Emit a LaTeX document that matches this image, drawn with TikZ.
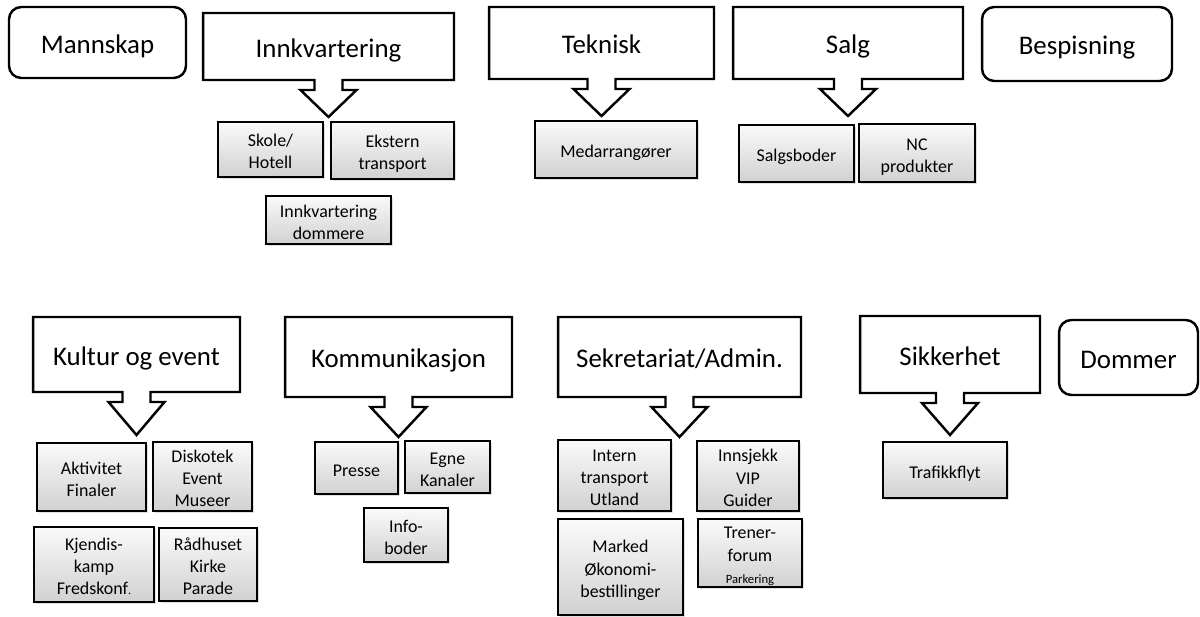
\documentclass[tikz,border=0pt]{standalone}
\usepackage{fontspec}
\setmainfont{Carlito}
\usetikzlibrary{calc,shadows}

\tikzset{
  headbox/.style={inner sep=0pt, outer sep=0pt, text height=12.4pt, text depth=0pt, font=\fontsize{15.3}{18}\selectfont},
  calloutline/.style={line width=1.4pt, line join=miter},
  roundbox/.style={draw, line width=1.4pt, rounded corners=7pt, inner sep=0pt, text height=12.4pt, text depth=0pt, font=\fontsize{15.3}{18}\selectfont},
  subbox/.style={draw, line width=1.1pt, top color=gray!4, bottom color=gray!36,
    drop shadow={shadow xshift=1pt, shadow yshift=-1.3pt, opacity=0.25},
    inner sep=0pt, font=\fontsize{10.2}{12.6}\selectfont},
}

% box with a down arrow under it
\newcommand{\calloutdown}[2]{%
  \draw[calloutline] (#1.south west) -- (#1.north west) -- (#1.north east) -- (#1.south east)
    -- ($(#1.south)+(14,0)$) -- ++(0,10) -- ++(14,0) -- ($(#1.south)+(0,#2)$)
    -- ($(#1.south)+(-28,10)$) -- ++(14,0) -- ($(#1.south)+(-14,0)$) -- cycle;}
% lines of a small box
\newcommand{\sublines}[1]{\raisebox{-2.1pt}[\height][\depth]{\begin{tabular}{@{}c@{}}#1\end{tabular}}}

\begin{document}
\begin{tikzpicture}[x=0.02cm, y=-0.02cm]
\useasboundingbox (0,0) rectangle (1200,616);

%top row
\node[roundbox, minimum width=3.54cm, minimum height=1.42cm] (mannskap) at (97.5,42.5) {Mannskap};

\node[headbox, minimum width=5.02cm, minimum height=1.34cm] (innkv) at (328.5,46.5) {Innkvartering};
\calloutdown{innkv}{37}
\node[subbox, minimum width=2.1cm, minimum height=1.1cm] (skole) at (270.5,149.5) {\sublines{Skole/\\Hotell}};
\node[subbox, minimum width=2.46cm, minimum height=1.14cm] (ekstern) at (392.5,150.5) {\sublines{Ekstern\\transport}};
\node[subbox, minimum width=2.5cm, minimum height=0.96cm] (innkvdom) at (328.5,220) {\sublines{Innkvartering\\dommere}};

\node[headbox, minimum width=4.5cm, minimum height=1.44cm] (teknisk) at (601.5,43) {Teknisk};
\calloutdown{teknisk}{37}
\node[subbox, minimum width=3.24cm, minimum height=1.14cm] (medarr) at (616,149.5) {\sublines{Medarrangører}};

\node[headbox, minimum width=4.6cm, minimum height=1.44cm] (salg) at (848,43) {Salg};
\calloutdown{salg}{37}
\node[subbox, minimum width=2.3cm, minimum height=1.14cm] (salgsboder) at (796.5,153.5) {\sublines{Salgsboder}};
\node[subbox, minimum width=2.32cm, minimum height=1.16cm] (ncprod) at (917,153) {\sublines{NC\\produkter}};

\node[roundbox, minimum width=3.8cm, minimum height=1.48cm] (bespisning) at (1077,44) {Bespisning};

%bottom row
\node[headbox, minimum width=4.14cm, minimum height=1.5cm] (kultur) at (136.5,354.5) {Kultur og event};
\calloutdown{kultur}{43}
\node[subbox, minimum width=2.18cm, minimum height=1.36cm] (aktivitet) at (91.5,477) {\sublines{Aktivitet\\Finaler}};
\node[subbox, minimum width=1.98cm, minimum height=1.38cm] (diskotek) at (202.5,476.5) {\sublines{Diskotek\\Event\\Museer}};
\node[subbox, minimum width=2.4cm, minimum height=1.5cm] (kjendis) at (94,564.5) {\sublines{Kjendis-\\kamp\\Fredskonf{\scriptsize.}}};
\node[subbox, minimum width=1.96cm, minimum height=1.46cm] (raadhus) at (208,564.5) {\sublines{Rådhuset\\Kirke\\Parade}};

\node[headbox, minimum width=4.54cm, minimum height=1.6cm] (komm) at (398.5,357) {Kommunikasjon};
\calloutdown{komm}{40}
\node[subbox, minimum width=1.66cm, minimum height=1.04cm] (presse) at (356.5,468) {\sublines{Presse}};
\node[subbox, minimum width=1.7cm, minimum height=1.04cm] (egne) at (447.5,467) {\sublines{Egne\\Kanaler}};
\node[subbox, minimum width=1.68cm, minimum height=1.08cm] (infoboder) at (406,535) {\sublines{Info-\\boder}};

\node[headbox, minimum width=4.86cm, minimum height=1.6cm] (sekr) at (679.5,357) {Sekretariat/Admin.};
\calloutdown{sekr}{40}
\node[subbox, minimum width=2.26cm, minimum height=1.42cm] (intern) at (614.5,475.5) {\sublines{Intern\\transport\\Utland}};
\node[subbox, minimum width=2.04cm, minimum height=1.4cm] (innsjekk) at (748,476) {\sublines{Innsjekk\\VIP\\Guider}};
\node[subbox, minimum width=2.5cm, minimum height=1.92cm] (marked) at (620.5,567) {\sublines{Marked\\Økonomi-\\bestillinger}};
\node[subbox, minimum width=2.08cm, minimum height=1.36cm] (trener) at (750,553) {\sublines{Trener-\\forum\\{\fontsize{7.2}{9}\selectfont Parkering}}};

\node[headbox, minimum width=3.6cm, minimum height=1.54cm] (sikk) at (950,354.5) {Sikkerhet};
\calloutdown{sikk}{42}
\node[subbox, minimum width=2.48cm, minimum height=1.12cm] (trafikk) at (945,470) {\sublines{Trafikkflyt}};

\node[roundbox, minimum width=2.78cm, minimum height=1.5cm] (dommer) at (1128.5,357.5) {Dommer};

\end{tikzpicture}
\end{document}
